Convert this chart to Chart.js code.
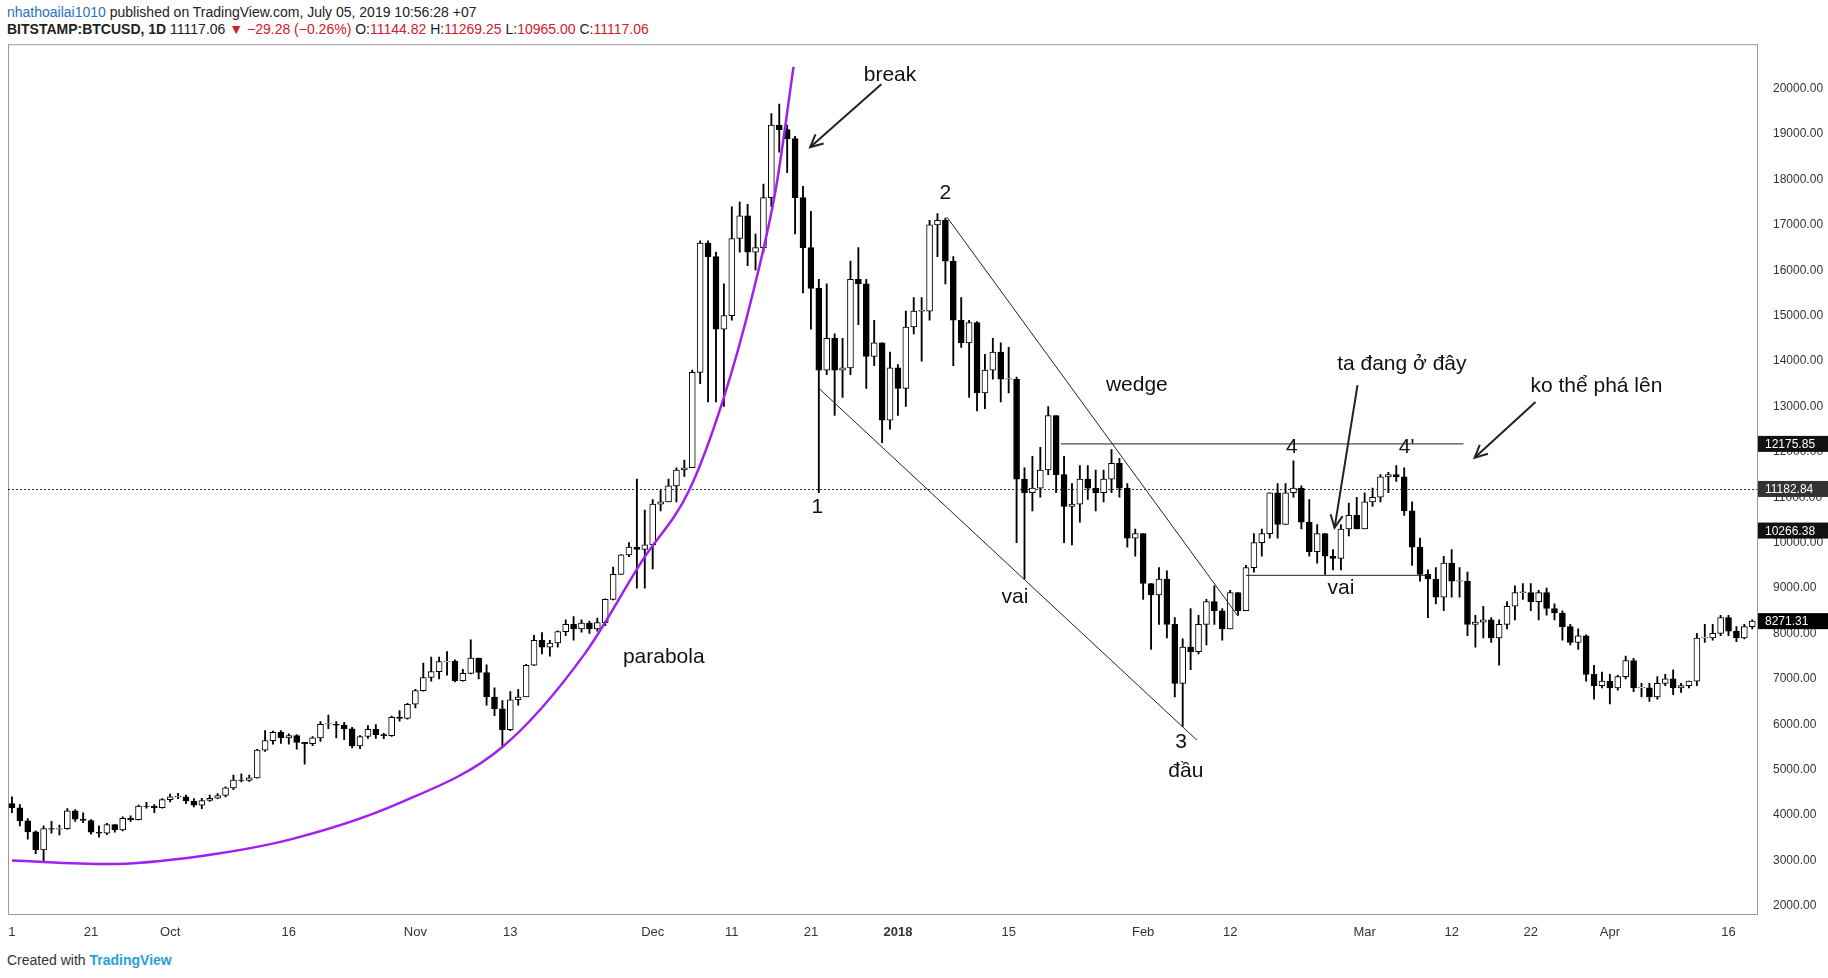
<!DOCTYPE html>
<html><head><meta charset="utf-8">
<script src="https://cdn.jsdelivr.net/npm/chart.js@4/dist/chart.umd.min.js"></script>
<style>
body{margin:0;width:1828px;height:978px;background:#fff;font-family:"Liberation Sans",Arial,sans-serif;position:relative;overflow:hidden}
#h1{position:absolute;left:7px;top:4px;font-size:14px;color:#222}
#h2{position:absolute;left:7px;top:21px;font-size:14px;color:#222;font-weight:bold}
#h2 span.r{color:#d0202a;font-weight:normal}
#foot{position:absolute;left:7px;top:952px;font-size:14px;color:#333}
#wrap{position:absolute;left:0;top:29px;width:1828px;height:915px}
</style></head><body>
<div id="h1"><span style="color:#2a70c8">nhathoailai1010</span> published on TradingView.com, July 05, 2019 10:56:28 +07</div>
<div id="h2">BITSTAMP:BTCUSD, 1D <span style="font-weight:normal">11117.06</span> <span class="r">▼ −29.28 (−0.26%)</span> <span style="font-weight:normal">O:</span><span class="r">11144.82</span> <span style="font-weight:normal">H:</span><span class="r">11269.25</span> <span style="font-weight:normal">L:</span><span class="r">10965.00</span> <span style="font-weight:normal">C:</span><span class="r">11117.06</span></div>
<div id="foot">Created with <b style="color:#2a9fd8">TradingView</b></div>
<div id="wrap"><canvas id="c"></canvas></div>
<script>
const closes=[4160,3870,3630,3230,3700,3690,3700,4090,3910,3880,3620,3600,3790,3670,3930,3900,4200,4190,4160,4340,
4400,4400,4310,4220,4320,4370,4430,4600,4770,4760,4820,5430,5640,5820,5700,5750,5600,5570,5700,6000,6000,5980,5900,5520,5730,5890,5770,5750,6150,6130,6440,
6740,7030,7160,7380,7390,6960,7120,7460,7140,6600,6340,5880,6540,6600,7300,7850,7700,7790,8040,8200,8100,8230,8100,8240,8750,9300,9730,9900,9850,9950,
10850,10900,11250,11600,11650,13750,16600,16300,14700,15000,16700,17200,16400,16500,17600,19200,19100,18900,17600,16500,15600,13800,14500,13800,13850,15800,15700,14100,14400,12700,13850,
13400,14750,15100,15100,17000,17100,16200,14900,14400,14850,13300,13800,14200,13600,13600,11400,11100,11200,11600,12800,11500,10800,10850,11400,11200,11100,11400,11750,11200,10100,10200,
9100,8850,9200,8200,6900,7700,7600,8200,8700,8500,8100,8900,8500,9450,10000,10200,11100,10400,11100,11200,10450,9800,10200,9700,9650,10300,10600,10300,
10900,11000,11450,11500,11450,10700,9900,9300,9200,8800,9550,9150,9150,8200,8250,8300,7900,8200,8600,8900,8900,8700,8900,8550,8450,8150,7800,7950,7100,6850,6950,
6800,7050,7400,6800,6800,6600,6900,7000,6800,6850,6950,7900,7900,8000,8350,8050,7900,8150,8270];
const opens=[4250,4160,3870,3630,3230,3700,3690,3700,4090,3910,3880,3620,3600,3790,3670,3930,3900,4200,4190,4160,
4340,4400,4400,4310,4220,4320,4370,4430,4600,4770,4760,4820,5430,5640,5820,5700,5750,5600,5570,5700,6000,6000,5980,5900,5520,5730,5890,5770,5750,6150,6130,
6440,6740,7030,7160,7380,7390,6960,7120,7460,7140,6600,6340,5880,6540,6600,7300,7850,7700,7790,8040,8200,8100,8230,8100,8240,8750,9300,9730,9900,9850,
9950,10850,10900,11250,11600,11650,13750,16600,16300,14700,15000,16700,17200,16400,16500,17600,19200,19100,18900,17600,16500,15600,13800,14500,13800,13850,15800,15700,14100,14400,12700,
13850,13400,14750,15100,15100,17000,17100,16200,14900,14400,14850,13300,13800,14200,13600,13600,11400,11100,11200,11600,12800,11500,10800,10850,11400,11200,11100,11400,11750,11200,10100,
10200,9100,8850,9200,8200,6900,7700,7600,8200,8700,8500,8100,8900,8500,9450,10000,10200,11100,10400,11100,11200,10450,9800,10200,9700,9650,10300,10600,
10300,10900,11000,11450,11500,11450,10700,9900,9300,9200,8800,9550,9150,9150,8200,8250,8300,7900,8200,8600,8900,8900,8700,8900,8550,8450,8150,7800,7950,7100,6850,
6950,6800,7050,7400,6800,6800,6600,6900,7000,6800,6850,6950,7900,7900,8000,8350,8050,7900,8150];
const highs=[4400,4230,3920,3650,3760,3860,3780,4140,4120,4050,3900,3760,3820,3790,3960,3980,4220,4280,4230,4360,
4460,4480,4440,4360,4370,4440,4470,4620,4880,4910,4880,5450,5860,5850,5860,5790,5770,5600,5730,6060,6200,6060,6040,5930,5750,5970,5990,5800,6180,6300,6460,
6770,7350,7480,7480,7600,7420,7210,7860,7460,7310,6800,6520,6720,6770,7320,7960,8020,7850,8060,8300,8370,8300,8270,8340,8760,9460,9740,10000,11400,10720,
10950,11150,11400,11650,11820,13800,16650,16650,16400,15700,17400,17500,17450,16800,17900,19450,19660,19200,18950,17850,17300,15800,15700,14600,14500,16200,16500,15800,14900,14400,14200,
13920,15100,15400,15400,17100,17250,17150,16300,15400,14900,14870,14150,14500,14400,14300,13650,11650,11900,12100,13000,12800,11900,11300,11700,11700,11600,11600,12050,11860,11300,10300,
10200,9100,9450,9380,8350,7880,8550,8400,8750,9050,8550,8950,8900,9500,10200,10300,11100,11300,11300,11800,11250,10950,10400,10200,9850,10400,10870,11000,
11100,11200,11500,11550,11700,11650,10900,10100,9400,9450,9700,9850,9450,9350,8400,8600,8350,8300,8700,9050,9100,9100,8950,9000,8650,8500,8200,8100,7970,7300,7150,
7100,7080,7500,7450,6900,6900,7050,7100,7200,6900,6950,8000,8200,8200,8400,8400,8150,8200,8300];
const lows=[4050,3760,3470,3150,2980,3600,3560,3690,3860,3830,3580,3510,3570,3620,3650,3860,3890,4150,4050,4150,
4290,4360,4250,4180,4140,4300,4360,4400,4560,4730,4740,4810,5400,5560,5580,5560,5450,5120,5530,5620,5900,5700,5660,5480,5460,5690,5690,5680,5730,6070,6110,
6360,6730,6950,7000,7080,6930,6950,7110,7000,6420,6190,5520,5860,6420,6600,7290,7550,7500,7700,7950,7850,8030,8000,8050,8170,8740,9300,9690,9000,9000,
9420,10700,10900,10900,11460,11650,13500,13100,13100,13000,14900,16400,16100,16000,16400,17400,18600,18150,16800,15500,14700,11100,13700,12800,13200,13700,14800,13400,13900,12200,12500,
12800,13000,14600,14000,14900,16300,15700,13900,14300,13200,12900,12950,13600,13100,13300,10000,9200,10700,11000,11500,11100,10000,9950,10450,10950,10700,10900,11100,11000,9900,9700,
8750,7650,8200,7900,6600,5950,7200,7550,7750,8200,7850,8100,8400,8500,9350,9700,10100,10100,10400,11000,10300,9700,9550,9300,9400,9400,10150,10300,
10300,10800,10900,11100,11350,10600,9500,9150,8350,8650,8500,8800,8800,7950,7700,7900,7800,7300,8100,8300,8750,8500,8300,8400,8300,7850,7750,7650,6950,6550,6800,
6450,6750,7000,6720,6600,6500,6550,6850,6650,6700,6800,6850,7800,7850,7950,7950,7820,7880,8100];
const tickIdx=[0,10,20,35,51,63,81,91,101,112,126,143,154,171,182,192,202,217];
const tickLabels=["1","21","Oct","16","Nov","13","Dec","11","21","2018","15","Feb","12","Mar","12","22","Apr","16"];
const priceTicks=[2000,3000,4000,5000,6000,7000,8000,9000,10000,11000,12000,13000,14000,15000,16000,17000,18000,19000,20000];
const parabolaX=[0,12,24,35.6,48.8,62,72.4,79.7,85.6,90,93.7,96.6,98.8];
const parabolaY=[3000,2920,3100,3480,4250,5500,7550,9610,11150,13200,15520,17830,20480];
const markLabels=[["break",111,20300],["2",118,17700],["wedge",142.2,13470],["ta đang ở đây",175.7,13930],["ko thể phá lên",200.3,13440],["4",161.8,12100],["4'",176.3,12100],["1",101.8,10770],["vai",126.8,8790],["vai",168,8990],["parabola",82.4,7480],["3",147.8,5600],["đầu",148.4,4960]];
const trendLines=[[102,13400,149.8,5650],[118.2,17170,155,8380],[132.6,12175,183.5,12175],[156,9280,179.4,9280]];
const arrowLines=[[109.9,20100,100.9,18710],[192.6,13100,184.9,11870],[170.1,13470,167.2,10330]];
const lastPrice=11182.84;
const axisMarks=[[12175.85,"#111"],[11182.84,"#333"],[10266.38,"#111"],[8271.31,"#000"]];

const wick=closes.map((c,i)=>({x:i,y:[lows[i],highs[i]]}));
const body=closes.map((c,i)=>({x:i,y:[Math.min(opens[i],c),Math.max(opens[i],c)===Math.min(opens[i],c)?c+15:Math.max(opens[i],c)]}));
const bodyColor=closes.map((c,i)=>c>=opens[i]?"#fff":"#000");

const annot={id:'annot',
 beforeDatasetsDraw(ch){const {ctx,scales:{x,y},chartArea:a}=ch;
  ctx.save();ctx.strokeStyle="#999";ctx.lineWidth=1;ctx.strokeRect(a.left+0.5,a.top+0.5,a.right-a.left,a.bottom-a.top);
  ctx.setLineDash([2,2]);ctx.strokeStyle="#333";const py=Math.round(y.getPixelForValue(lastPrice))+0.5;
  ctx.beginPath();ctx.moveTo(a.left,py);ctx.lineTo(a.right,py);ctx.stroke();ctx.restore();},
 afterDatasetsDraw(ch){const {ctx,scales:{x,y},chartArea:a}=ch;ctx.save();
  ctx.strokeStyle="#222";ctx.lineWidth=1;
  trendLines.forEach(l=>{ctx.beginPath();ctx.moveTo(x.getPixelForValue(l[0]),y.getPixelForValue(l[1]));ctx.lineTo(x.getPixelForValue(l[2]),y.getPixelForValue(l[3]));ctx.stroke();});
  ctx.lineWidth=2;
  arrowLines.forEach(l=>{const x1=x.getPixelForValue(l[0]),y1=y.getPixelForValue(l[1]),x2=x.getPixelForValue(l[2]),y2=y.getPixelForValue(l[3]);
   ctx.beginPath();ctx.moveTo(x1,y1);ctx.lineTo(x2,y2);ctx.stroke();const an=Math.atan2(y2-y1,x2-x1);
   ctx.beginPath();ctx.moveTo(x2-14*Math.cos(an-0.45),y2-14*Math.sin(an-0.45));ctx.lineTo(x2,y2);ctx.lineTo(x2-14*Math.cos(an+0.45),y2-14*Math.sin(an+0.45));ctx.stroke();});
  ctx.fillStyle="#111";ctx.font='21px "Liberation Sans", Arial';ctx.textAlign="center";ctx.textBaseline="middle";
  markLabels.forEach(m=>ctx.fillText(m[0],x.getPixelForValue(m[1]),y.getPixelForValue(m[2])));
  ctx.font='12px "Liberation Sans", Arial';ctx.textAlign="left";
  axisMarks.forEach(m=>{const py=y.getPixelForValue(m[0]);ctx.fillStyle=m[1];ctx.fillRect(a.right+1,py-8,70,16);ctx.fillStyle="#fff";ctx.fillText(m[0].toFixed(2),a.right+8,py+1);});
  ctx.restore();}};

new Chart(document.getElementById('c'),{
 data:{datasets:[
  {type:'bar',data:wick,backgroundColor:"#000",barThickness:1.2,grouped:false,order:3},
  {type:'bar',data:body,backgroundColor:bodyColor,borderColor:"#000",borderWidth:1,borderSkipped:false,barThickness:6,grouped:false,order:2},
  {type:'line',data:parabolaX.map((v,i)=>({x:v,y:parabolaY[i]})),borderColor:"#a020f0",borderWidth:2.5,pointRadius:0,tension:0.4,cubicInterpolationMode:'monotone',order:1}
 ]},
 options:{responsive:true,maintainAspectRatio:false,animation:false,
  layout:{padding:{left:8,top:0,right:0,bottom:0}},
  plugins:{legend:{display:false},tooltip:{enabled:false}},
  scales:{
   x:{type:'linear',offset:false,min:-0.5,max:220.6,grid:{display:false,offset:false},border:{display:false},
    afterBuildTicks:s=>{s.ticks=tickIdx.map(v=>({value:v}));},
    afterFit:s=>{s.height=30;},
    ticks:{autoSkip:false,maxRotation:0,color:"#333",font:c=>({size:13,weight:c.tick&&c.tick.value===112?'bold':'normal',family:'"Liberation Sans", Arial'}),callback:v=>tickLabels[tickIdx.indexOf(v)]}},
   y:{position:'right',min:1820,max:20980,grid:{display:false},border:{display:false},
    afterBuildTicks:s=>{s.ticks=priceTicks.map(v=>({value:v}));},
    afterFit:s=>{s.width=71;},
    ticks:{color:"#333",padding:8,font:{size:12,family:'"Liberation Sans", Arial'},callback:v=>v.toFixed(2)}}
  }},
 plugins:[annot]});
</script></body></html>
